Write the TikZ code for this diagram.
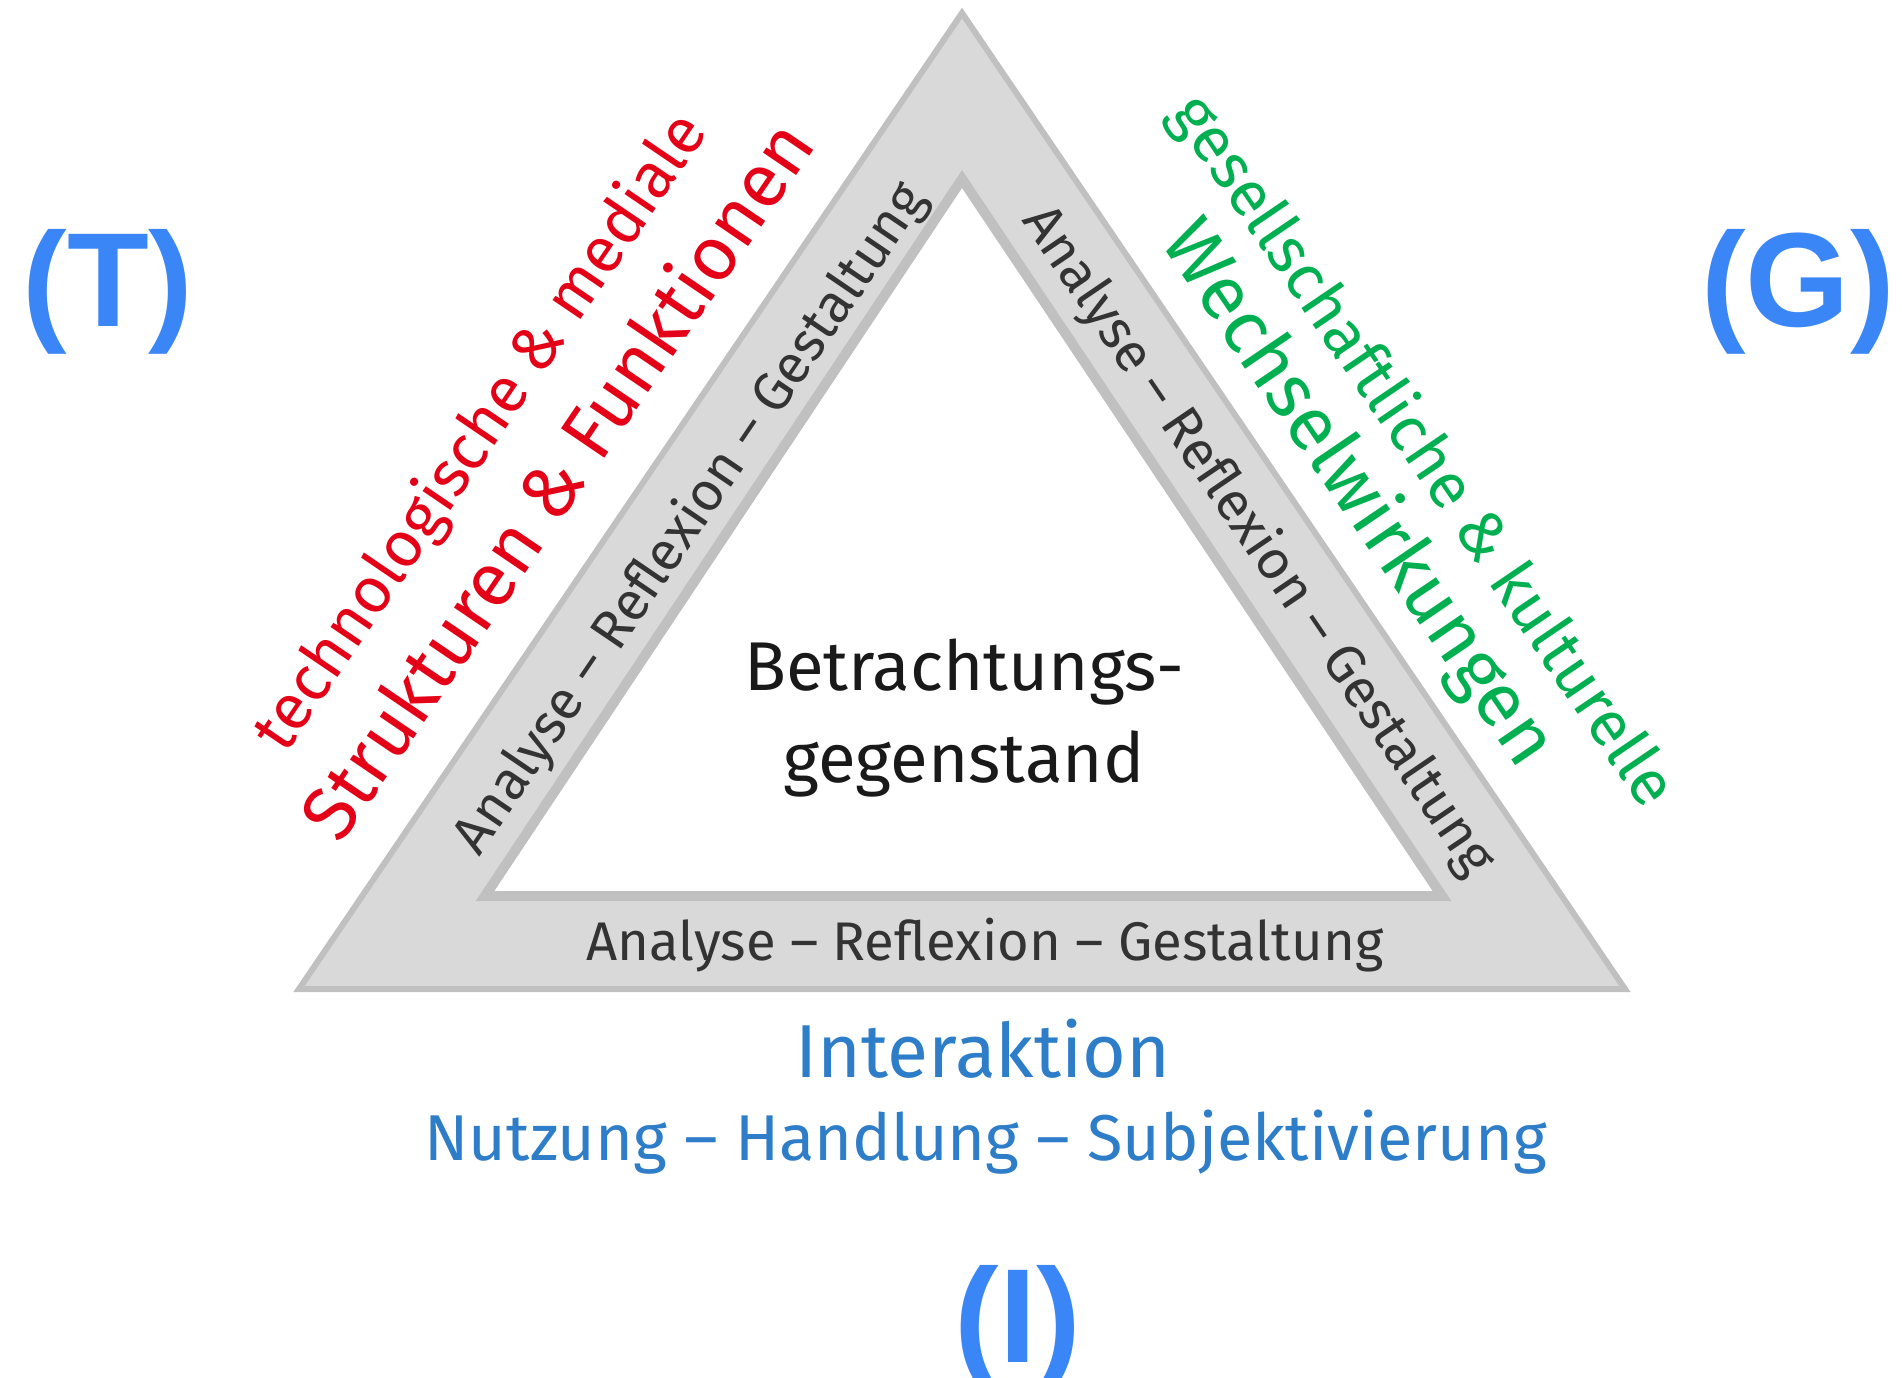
\documentclass[tikz,border=0pt]{standalone}
\usepackage{fontspec}
\setmainfont{Fira Sans}
\newfontfamily\letterfont{Liberation Sans}
\usetikzlibrary{calc}

\definecolor{bandgray}{RGB}{217,217,217}
\definecolor{edgegray}{RGB}{192,192,192}
\definecolor{techred}{RGB}{228,0,22}
\definecolor{gesgreen}{RGB}{0,176,80}
\definecolor{intblue}{RGB}{46,125,200}
\definecolor{letterblue}{RGB}{59,134,246}

\tikzset{
  bandtext/.style={inner sep=0.75pt, text=black!80, font=\fontsize{27.2}{32}\selectfont},
  sidesmall/.style={inner sep=0.75pt, font=\fontsize{32}{38}\selectfont},
  sidebig/.style={inner sep=0.75pt, font=\fontsize{38}{46}\selectfont},
  lettertag/.style={inner sep=0pt, anchor=base, text=letterblue, font=\letterfont\bfseries\fontsize{67}{80}\selectfont}
}

\begin{document}
\begin{tikzpicture}[x=0.5pt,y=0.5pt,yscale=-1]
\useasboundingbox (0,0) rectangle (1902,1377);

% outer and inner triangle
\coordinate (apex) at (962,13);
\coordinate (outL) at (299,989);
\coordinate (outR) at (1625,989);
\coordinate (inApex) at (962,179);
\coordinate (inL) at (485,896);
\coordinate (inR) at (1442,896);
\draw [edgegray, fill=bandgray, line width=3] (outL) -- (apex) -- (outR) -- cycle;
\draw [edgegray, fill=white, line width=5] (inL) -- (inApex) -- (inR) -- cycle;

% centre
\node (center) [inner sep=0.75pt, align=center, text=black!90, font=\fontsize{34.5}{46}\selectfont] at (964,718) {Betrachtungs-\\gegenstand};

% band texts
\node (bandB) [bandtext] at (985,945) {Analyse -- Reflexion -- Gestaltung};
\node (bandL) [bandtext, rotate=55.8] at (691,519) {Analyse -- Reflexion -- Gestaltung};
\node (bandR) [bandtext, rotate=-55.8] at (1258,541) {Analyse -- Reflexion -- Gestaltung};

% technology side
\node (techSmall) [sidesmall, text=techred, rotate=55.8] at (482,433) {technologische \& mediale};
\node (techBig) [sidebig, text=techred, rotate=55.8] at (555,479) {Strukturen \& Funktionen};

% society side
\node (gesSmall) [sidesmall, text=gesgreen, rotate=-55.8] at (1422,452) {gesellschaftliche \& kulturelle};
\node (gesBig) [sidebig, text=gesgreen, rotate=-55.8] at (1357,494) {Wechselwirkungen};

% interaction
\node (intTitle) [inner sep=0.75pt, anchor=base, text=intblue, font=\fontsize{37.5}{44}\selectfont] at (983,1077) {Interaktion};
\node (intSub) [inner sep=0.75pt, anchor=base, text=intblue, font=\fontsize{32.4}{38}\selectfont] at (986,1160) {Nutzung -- Handlung -- Subjektivierung};

% corner tags
\node (tagT) [lettertag] at (108,326) {(T)};
\node (tagG) [lettertag] at (1798,326) {(G)};
\node (tagI) [lettertag] at (1018,1362) {(I)};

\end{tikzpicture}
\end{document}
